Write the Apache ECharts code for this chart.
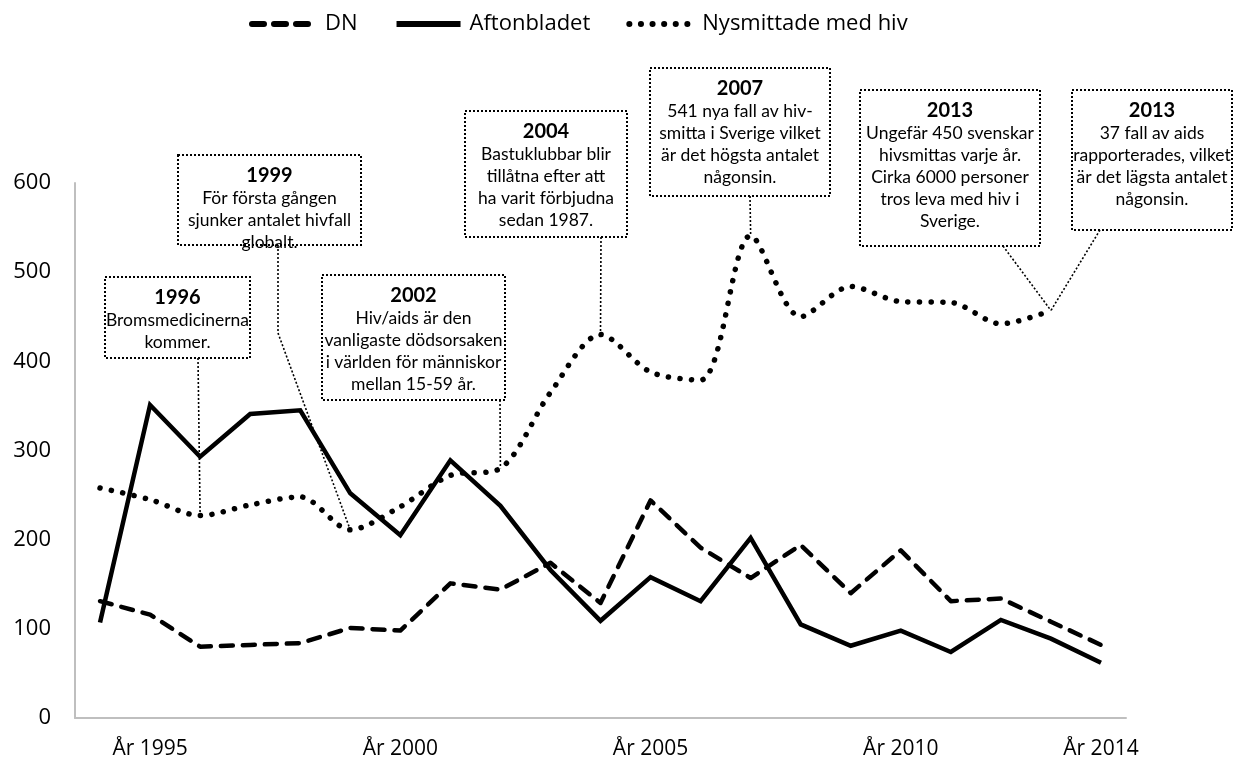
<!DOCTYPE html>
<html>
<head>
<meta charset="utf-8">
<script src="https://cdn.jsdelivr.net/npm/echarts@6/dist/echarts.min.js"></script>
<style>
  html, body { margin: 0; padding: 0; background: #fff; }
  #chart { width: 1234px; height: 764px; }
</style>
</head>
<body>
<div id="chart"></div>
<script>
// data
const years = ['1994', '1995', '1996', '1997', '1998', '1999', '2000', '2001', '2002', '2003', '2004',
  '2005', '2006', '2007', '2008', '2009', '2010', '2011', '2012', '2013', '2014']
const xLabelYears = ['1995', '2000', '2005', '2010', '2014']
const dnValues = [131, 116, 80, 82, 84, 101, 98, 151, 144, 174, 129, 244, 191, 157, 194, 140, 188, 131, 134, 108, 82]
const aftonbladetValues = [107, 351, 293, 341, 345, 252, 205, 289, 238, 166, 109, 158, 131, 202, 105, 81, 98, 74, 110, 89, 62]
const nysmittadeValues = [258, 245, 227, 239, 248, 211, 237, 272, 280, 365, 430, 388, 379, 541, 450, 484, 467, 466, 442, 457, null]

const noteYears = ['1996', '1999', '2002', '2004', '2007', '2013', '2013']
const noteTexts = [
  ['Bromsmedicinerna', 'kommer.'],
  ['För första gången', 'sjunker antalet hivfall', 'globalt.'],
  ['Hiv/aids är den', 'vanligaste dödsorsaken', 'i världen för människor', 'mellan 15-59 år.'],
  ['Bastuklubbar blir', 'tillåtna efter att', 'ha varit förbjudna', 'sedan 1987.'],
  ['541 nya fall av hiv-', 'smitta i Sverige vilket', 'är det högsta antalet', 'någonsin.'],
  ['Ungefär 450 svenskar', 'hivsmittas varje år.', 'Cirka 6000 personer', 'tros leva med hiv i', 'Sverige.'],
  ['37 fall av aids', 'rapporterades, vilket', 'är det lägsta antalet', 'någonsin.']
]

// box layout (pixels) and where the leader leaves the box
const noteBoxes = [
  { x: 105, y: 277, w: 145, h: 81, leader: [[198, 358]] },
  { x: 178, y: 155, w: 183, h: 90, leader: [[278, 245], [278, 333]] },
  { x: 322, y: 275, w: 183, h: 125, leader: [[500, 400]] },
  { x: 465, y: 111, w: 162, h: 126, leader: [[601, 237]] },
  { x: 650, y: 68, w: 180, h: 128, leader: [[750, 196]] },
  { x: 860, y: 90, w: 180, h: 156, leader: [[1003, 246]] },
  { x: 1072, y: 90, w: 160, h: 140, leader: [[1100, 230]] }
]

const noteFont = 'Lato, "Noto Sans", sans-serif'
const axisFont = '"Open Sans", "Noto Sans", sans-serif'

const chart = echarts.init(document.getElementById('chart'))

chart.setOption({
  animation: false,
  legend: {
    top: 8,
    left: 244,
    itemWidth: 64,
    itemHeight: 14,
    itemGap: 36,
    itemStyle: { opacity: 0, borderWidth: 0 },
    lineStyle: { width: 6 },
    textStyle: {
      fontFamily: axisFont,
      fontSize: 22,
      color: '#000',
      padding: [0, 0, 0, 4]
    },
    data: ['DN', 'Aftonbladet', 'Nysmittade med hiv']
  },
  grid: {
    left: 75,
    right: 108,
    top: 183,
    bottom: 46
  },
  xAxis: {
    type: 'category',
    data: years,
    boundaryGap: true,
    axisTick: { show: false },
    axisLine: { lineStyle: { color: '#bfbfbf', width: 2 } },
    axisLabel: {
      interval: (idx, val) => xLabelYears.includes(val),
      formatter: (val) => 'År ' + val,
      margin: 21,
      fontFamily: axisFont,
      fontSize: 21,
      color: '#000'
    }
  },
  yAxis: {
    type: 'value',
    min: 0,
    max: 600,
    interval: 100,
    splitLine: { show: false },
    axisTick: { show: false },
    axisLine: { show: true, lineStyle: { color: '#bfbfbf', width: 2 } },
    axisLabel: {
      margin: 24,
      fontFamily: axisFont,
      fontSize: 22,
      color: '#000'
    }
  },
  series: [
    {
      name: 'DN',
      type: 'line',
      data: dnValues,
      symbol: 'none',
      lineStyle: { color: '#000', width: 4.5, type: [12, 10], cap: 'round', join: 'round' },
      itemStyle: { color: '#000' }
    },
    {
      name: 'Aftonbladet',
      type: 'line',
      data: aftonbladetValues,
      symbol: 'none',
      lineStyle: { color: '#000', width: 4.5, join: 'miter' },
      itemStyle: { color: '#000' }
    },
    {
      name: 'Nysmittade med hiv',
      type: 'line',
      data: nysmittadeValues,
      symbol: 'none',
      smooth: 0.3,
      lineStyle: { color: '#000', width: 5.5, type: [0.1, 11.5], cap: 'round' },
      itemStyle: { color: '#000' }
    }
  ]
})

// annotation boxes and leader lines
const graphics = []
noteBoxes.forEach((box, i) => {
  const idx = years.indexOf(noteYears[i])
  const target = chart.convertToPixel({ seriesIndex: 2 }, [idx, nysmittadeValues[idx]])
  graphics.push({
    type: 'polyline',
    shape: { points: box.leader.concat([target]) },
    style: { stroke: '#000', lineWidth: 1.6, lineDash: [2, 2], fill: null },
    z: 10
  })
  graphics.push({
    type: 'rect',
    shape: { x: box.x, y: box.y, width: box.w, height: box.h },
    style: { fill: '#fff', stroke: '#000', lineWidth: 2, lineDash: [2, 2] },
    z: 11
  })
  graphics.push({
    type: 'text',
    x: box.x + box.w / 2,
    y: box.y + 10,
    style: {
      text: '{b|' + noteYears[i] + '}\n' + noteTexts[i].join('\n'),
      align: 'center',
      verticalAlign: 'top',
      fontFamily: noteFont,
      fontSize: 17.5,
      lineHeight: 22,
      fill: '#000',
      rich: {
        b: { fontFamily: noteFont, fontSize: 20, fontWeight: 'bold', lineHeight: 22 }
      }
    },
    z: 12
  })
})
chart.setOption({ graphic: graphics })
</script>
</body>
</html>
